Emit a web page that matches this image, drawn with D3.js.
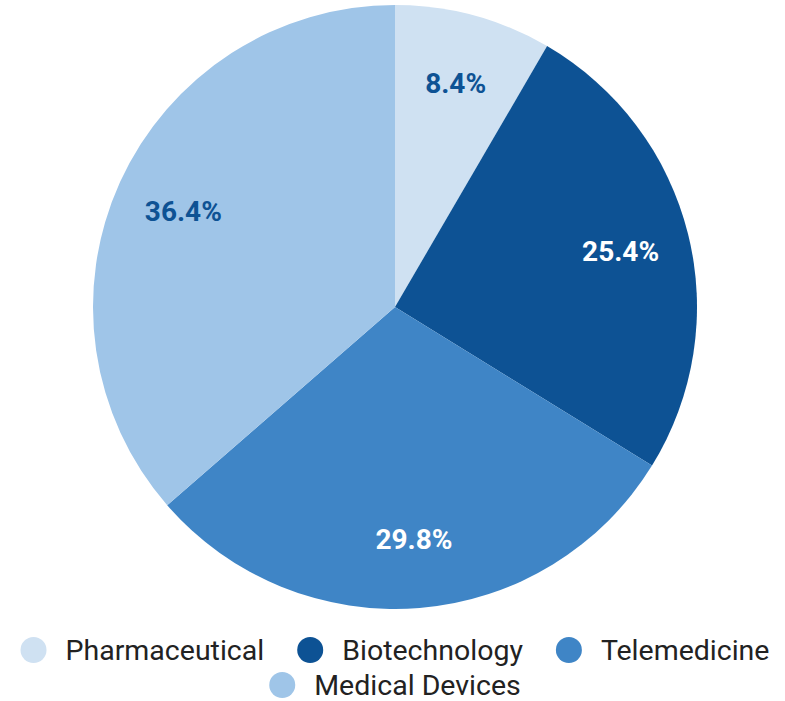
<!DOCTYPE html>
<html>
<head>
<meta charset="utf-8">
<script src="https://cdn.jsdelivr.net/npm/d3@7"></script>
<style>
  body { margin: 0; background: #fff; }
  svg { display: block; font-family: Roboto, "Noto Sans", sans-serif; }
</style>
</head>
<body>
<script>
// datos del gráfico
var categorias = ["Pharmaceutical", "Biotechnology", "Telemedicine", "Medical Devices"];
var valores = [8.4, 25.4, 29.8, 36.4];
var colores = ["#cfe1f2", "#0d5294", "#3f85c6", "#9fc5e8"];
var colorTexto = ["#0d5294", "#ffffff", "#ffffff", "#0d5294"];

var width = 785, height = 701;
var cx = 395, cy = 307, radio = 302;

var svg = d3.select("body").append("svg")
    .attr("width", width)
    .attr("height", height);

var datos = categorias.map(function(c, i) {
    return { categoria: c, valor: valores[i], color: colores[i], texto: colorTexto[i] };
});

var pie = d3.pie().sort(null).value(function(d) { return d.valor; });
var arco = d3.arc().innerRadius(0).outerRadius(radio);
var arcoEtiqueta = d3.arc().innerRadius(radio * 0.77).outerRadius(radio * 0.77);

var g = svg.append("g").attr("transform", "translate(" + cx + "," + cy + ")");

g.selectAll("path")
    .data(pie(datos))
    .enter()
    .append("path")
    .attr("d", arco)
    .attr("fill", function(d) { return d.data.color; });

g.selectAll("text")
    .data(pie(datos))
    .enter()
    .append("text")
    .attr("transform", function(d) { return "translate(" + arcoEtiqueta.centroid(d) + ")"; })
    .attr("text-anchor", "middle")
    .attr("dy", "0.36em")
    .style("font-size", "28px")
    .style("font-weight", "bold")
    .attr("fill", function(d) { return d.data.texto; })
    .text(function(d) { return d.data.valor.toFixed(1) + "%"; });

// leyenda
var filas = [[0, 1, 2], [3]];
var filaY = [650, 685];
var r = 13, hueco = 19, sep = 33;
var leyenda = svg.append("g");

filas.forEach(function(fila, f) {
    var grupo = leyenda.append("g");
    var x = 0;
    fila.forEach(function(i) {
        var item = grupo.append("g").attr("transform", "translate(" + x + ",0)");
        item.append("circle")
            .attr("cx", r).attr("cy", 0).attr("r", r)
            .attr("fill", colores[i]);
        var t = item.append("text")
            .attr("x", 2 * r + hueco)
            .attr("dy", "0.36em")
            .style("font-size", "28.5px")
            .attr("fill", "#222")
            .text(categorias[i]);
        x += 2 * r + hueco + t.node().getComputedTextLength() + sep;
    });
    var ancho = x - sep;
    grupo.attr("transform", "translate(" + (cx - ancho / 2) + "," + filaY[f] + ")");
});
</script>
</body>
</html>
